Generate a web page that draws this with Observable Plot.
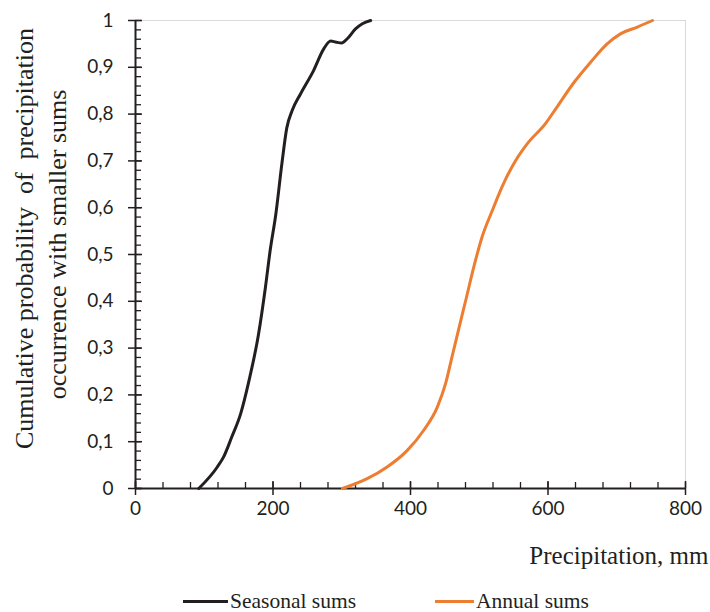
<!DOCTYPE html>
<html>
<head>
<meta charset="utf-8">
<script src="https://cdn.jsdelivr.net/npm/d3@7"></script>
<script src="https://cdn.jsdelivr.net/npm/@observablehq/plot@0.6"></script>
<style>
  body { margin: 0; background: #fff; }
  #wrap { position: relative; width: 710px; height: 612px; overflow: hidden; }
  #chart svg text { white-space: pre; }
  #legend { position: absolute; left: 0; top: 588px; width: 710px; height: 26px;
    font-family: "Liberation Serif", "Times New Roman", serif; font-size: 21.5px; color: #231f20; }
  .item { position: absolute; top: 0; display: flex; align-items: center; height: 26px; }
  .sw { display: inline-block; height: 3px; margin-right: 2px; }
</style>
</head>
<body>
<div id="wrap">
  <div id="chart"></div>
  <div id="legend"></div>
</div>
<script>
// Seasonal sums (precipitation, mm) and cumulative probability
const seasonalX = [92, 119, 128, 140, 153, 165, 179, 189, 196, 204, 213, 220, 228, 240, 259, 274, 284, 291, 300, 308, 320, 330, 342];
const seasonalP = [0, 0.046, 0.067, 0.11, 0.16, 0.23, 0.33, 0.43, 0.51, 0.585, 0.695, 0.77, 0.808, 0.843, 0.893, 0.94, 0.956, 0.954, 0.952, 0.961, 0.982, 0.993, 1];
// Annual sums
const annualX = [301, 337, 366, 395, 419, 439, 451, 461, 471, 481, 492, 504, 519, 533, 553, 570, 596, 613, 638, 662, 686, 706, 730, 752];
const annualP = [0, 0.021, 0.046, 0.081, 0.124, 0.174, 0.224, 0.285, 0.346, 0.406, 0.473, 0.537, 0.594, 0.644, 0.701, 0.737, 0.779, 0.815, 0.868, 0.911, 0.95, 0.972, 0.986, 1];

const seriesNames = ["Seasonal sums", "Annual sums"];
const seriesColors = ["#231f20", "#ed7d31"];
const xTicks = [0, 200, 400, 600, 800];
const yTicks = [0, 0.1, 0.2, 0.3, 0.4, 0.5, 0.6, 0.7, 0.8, 0.9, 1];
const xMinor = d3.range(0, 801, 40);
const yMinor = d3.range(0, 51).map(i => i / 50);
const xLabel = "Precipitation, mm";
const yLabel1 = "Cumulative probability  of  precipitation";
const yLabel2 = "occurrence with smaller sums";

const seasonal = seasonalX.map((x, i) => ({x, p: seasonalP[i], s: seriesNames[0]}));
const annual = annualX.map((x, i) => ({x, p: annualP[i], s: seriesNames[1]}));

const W = 710, H = 585;
const mL = 135, mR = 25, mT = 20, mB = 97;
const pw = W - mL - mR, ph = H - mT - mB;

const fmt = d => String(d).replace(".", ",");
const tickFont = "Lato, 'Open Sans', sans-serif";
const serif = "'Liberation Serif', 'Times New Roman', serif";

const chart = Plot.plot({
  width: W, height: H,
  marginLeft: mL, marginRight: mR, marginTop: mT, marginBottom: mB,
  style: {background: "#fff", color: "#231f20"},
  x: {domain: [0, 800]},
  y: {domain: [0, 1]},
  marks: [
    Plot.frame({stroke: "#d9d9d9"}),
    // inner minor ticks
    Plot.ruleY(yMinor, {y: d => d, insetRight: pw - 6, stroke: "#231f20", strokeWidth: 1.3}),
    Plot.ruleX(xMinor, {x: d => d, insetTop: ph - 6, stroke: "#231f20", strokeWidth: 1.3}),
    Plot.ruleY(yTicks, {y: d => d, insetRight: pw - 7, stroke: "#231f20", strokeWidth: 1.5}),
    Plot.ruleX(xTicks, {x: d => d, insetTop: ph - 7, stroke: "#231f20", strokeWidth: 1.5}),
    Plot.axisY({ticks: yTicks, tickSize: 7, tickPadding: 15, tickFormat: fmt, fontSize: 19, fontFamily: tickFont, stroke: "#231f20", strokeWidth: 1.5, label: null}),
    Plot.axisX({ticks: xTicks, tickSize: 7, tickPadding: 6, fontSize: 19, fontFamily: tickFont, stroke: "#231f20", strokeWidth: 1.5, label: null}),
    Plot.ruleX([0], {stroke: "#231f20", strokeWidth: 2}),
    Plot.ruleY([0], {stroke: "#231f20", strokeWidth: 2}),
    Plot.line(seasonal, {x: "x", y: "p", stroke: seriesColors[0], strokeWidth: 3, curve: "monotone-x"}),
    Plot.line(annual, {x: "x", y: "p", stroke: seriesColors[1], strokeWidth: 3, curve: "monotone-x"}),
    Plot.text([xLabel], {frameAnchor: "bottom-right", text: d => d, textAnchor: "end", dx: 23, dy: 75, fontSize: 25, fontFamily: serif, fill: "#231f20"}),
    Plot.text([yLabel1], {frameAnchor: "left", text: d => d, textAnchor: "middle", rotate: -90, dx: -111, dy: -16, fontSize: 26, fontFamily: serif, fill: "#231f20"}),
    Plot.text([yLabel2], {frameAnchor: "left", text: d => d, textAnchor: "middle", rotate: -90, dx: -78, dy: -10, fontSize: 26, fontFamily: serif, fill: "#231f20"})
  ]
});
document.getElementById("chart").appendChild(chart);

// legend
const legend = document.getElementById("legend");
const pos = [{line: 183, w: 45}, {line: 435, w: 39}];
seriesNames.forEach((name, i) => {
  const it = document.createElement("div");
  it.className = "item";
  it.style.left = pos[i].line + "px";
  const sw = document.createElement("span");
  sw.className = "sw";
  sw.style.width = pos[i].w + "px";
  sw.style.background = seriesColors[i];
  const t = document.createElement("span");
  t.textContent = name;
  it.appendChild(sw); it.appendChild(t);
  legend.appendChild(it);
});
</script>
</body>
</html>
